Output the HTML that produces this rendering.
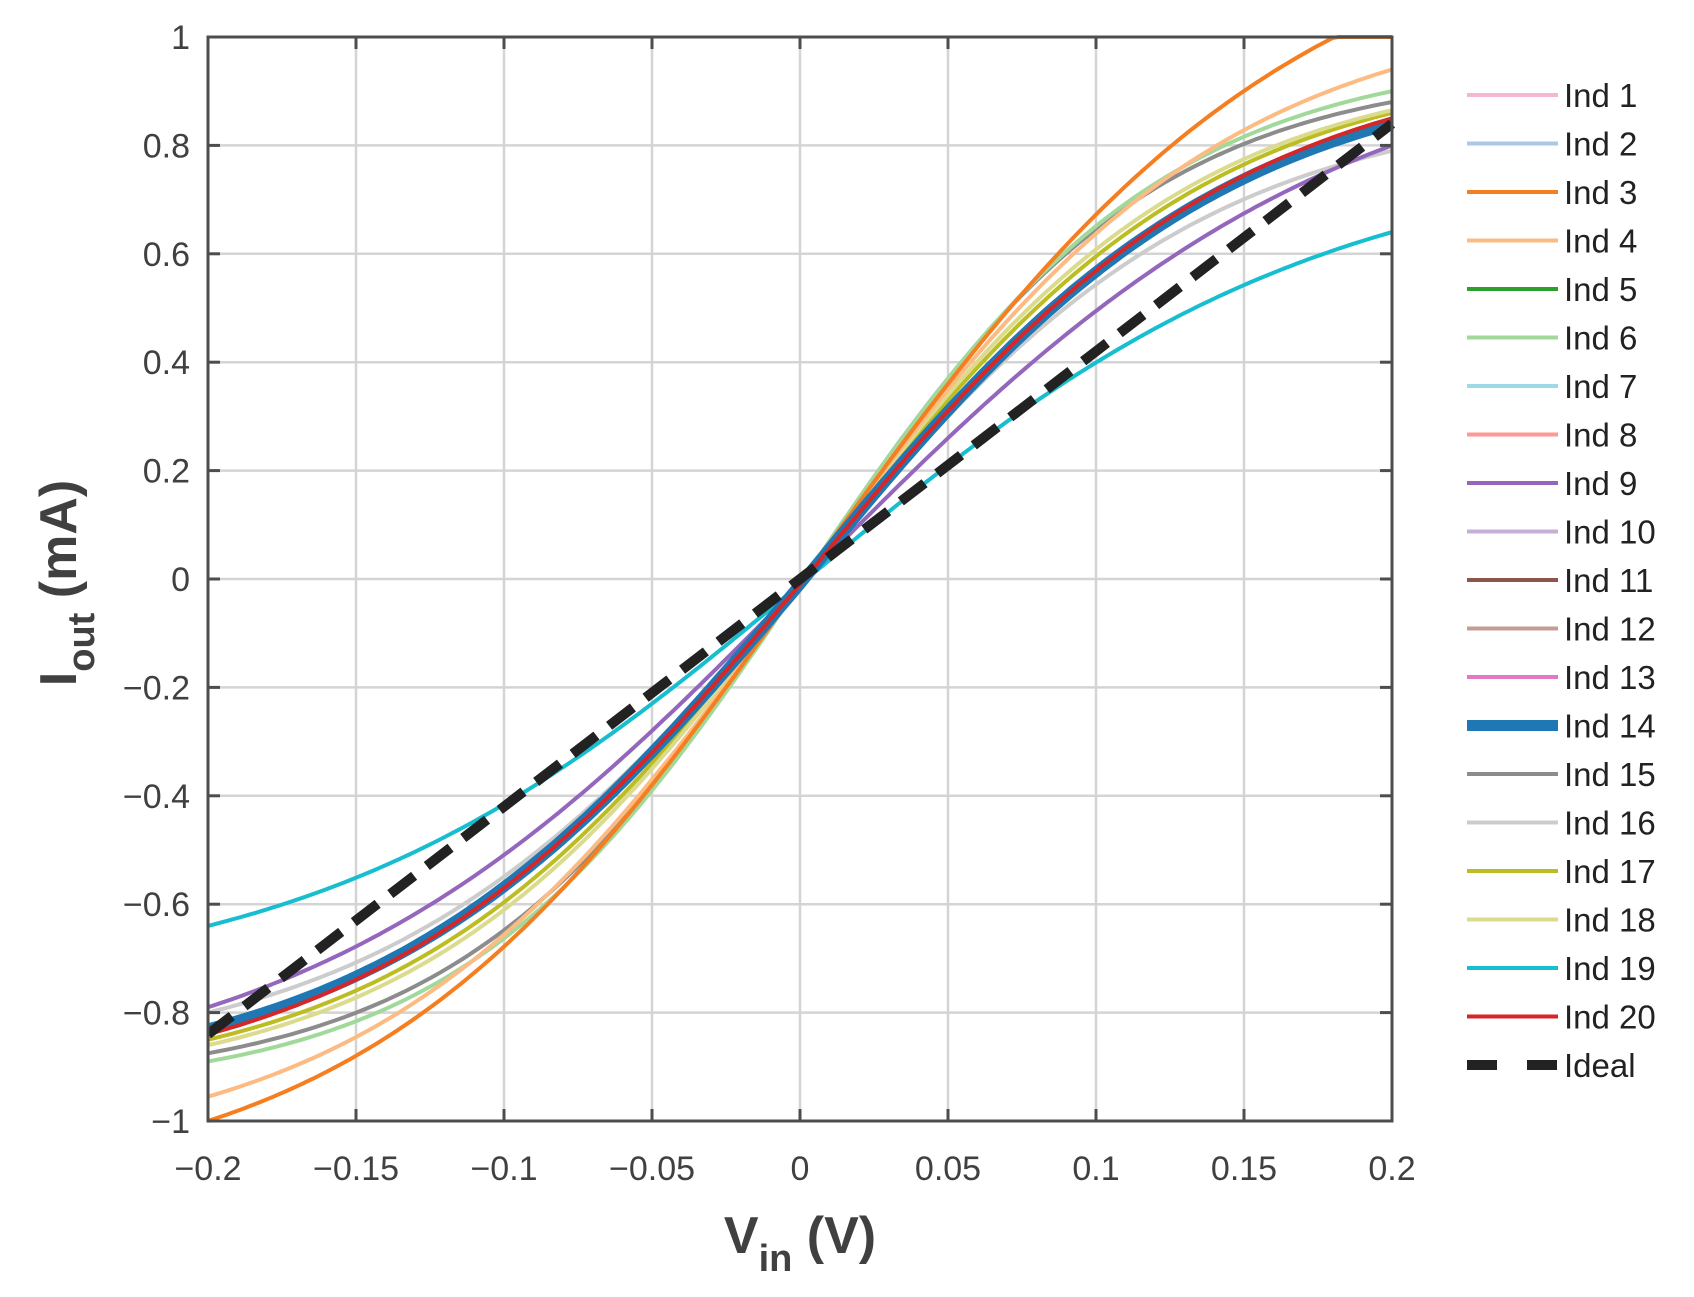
<!DOCTYPE html>
<html><head><meta charset="utf-8"><style>
html,body{margin:0;padding:0;background:#fff;}
svg{display:block;font-family:"Liberation Sans",Arial,sans-serif;}
</style></head><body>
<svg id="s" width="1694" height="1297" xmlns="http://www.w3.org/2000/svg"></svg>
<script>
const s=document.getElementById('s');
const L=208,R=1392,T=37,B=1121;
const X=v=>L+(v+0.2)/0.4*(R-L);
const Y=i=>T+(1-i)/2*(B-T);
let h='';
for(let k=-4;k<=4;k++){const x=X(k*0.05);h+=`<line x1="${x}" y1="${T}" x2="${x}" y2="${B}" stroke="#d4d4d4" stroke-width="2.5"/>`;}
for(let k=-5;k<=5;k++){const y=Y(k*0.2);h+=`<line x1="${L}" y1="${y}" x2="${R}" y2="${y}" stroke="#d4d4d4" stroke-width="2.5"/>`;}
function fit(p1,p4){
  const r=p4/p1;let lo=0.01,hi=60;
  for(let i=0;i<80;i++){const m=(lo+hi)/2;const q=Math.tanh(0.2*m)/Math.tanh(0.05*m);if(q>r)lo=m;else hi=m;}
  const b=(lo+hi)/2;return [p4/Math.tanh(0.2*b),b];
}
function curve(p1,p4,n1,n4){
  const [ap,bp]=fit(p1,p4),[an,bn]=fit(n1,n4);
  let d='';
  for(let j=0;j<=200;j++){const v=-0.2+j*0.002;
    let i=v>=0?ap*Math.tanh(bp*v):an*Math.tanh(bn*v);
    i-=0.01;
    if(i>1)i=1;
    d+=(j?'L':'M')+X(v).toFixed(1)+' '+Y(i).toFixed(1);}
  return d;
}
const cs=[
 ['#cccccc',0.31,0.80,0.30,0.79,4],
 ['#bcbd22',0.34,0.87,0.33,0.84,4],
 ['#9467bd',0.27,0.81,0.27,0.78,4],
 ['#8c8c8c',0.38,0.89,0.37,0.865,4],
 ['#dbdb8d',0.35,0.875,0.34,0.85,4],
 ['#a1d99b',0.38,0.91,0.38,0.88,4],
 ['#fdbb84',0.36,0.95,0.36,0.945,4],
 ['#f57f20',0.37,1.06,0.37,0.99,4],
 ['#17becf',0.22,0.65,0.22,0.63,4],
 ['#1f77b4',0.32,0.85,0.31,0.82,11],
 ['#d62728',0.32,0.86,0.31,0.83,4],
];
h+=`<clipPath id="c"><rect x="${L}" y="${T-3}" width="${R-L+4}" height="${B-T+6}"/></clipPath><g clip-path="url(#c)">`;
for(const c of cs)h+=`<path d="${curve(c[1],c[2],c[3],c[4])}" fill="none" stroke="${c[0]}" stroke-width="${c[5]}"/>`;
h+=`<line x1="${X(-0.2)}" y1="${Y(-0.84)}" x2="${X(0.2)}" y2="${Y(0.84)}" stroke="#222" stroke-width="10" stroke-dasharray="30,16"/>`;
h+='</g>';
h+=`<rect x="${L}" y="${T}" width="${R-L}" height="${B-T}" fill="none" stroke="#4d4d4d" stroke-width="3"/>`;
for(let k=-4;k<=4;k++){const x=X(k*0.05);h+=`<line x1="${x}" y1="${B}" x2="${x}" y2="${B-12}" stroke="#4d4d4d" stroke-width="3"/><line x1="${x}" y1="${T}" x2="${x}" y2="${T+12}" stroke="#4d4d4d" stroke-width="3"/>`;
 const lab=['\u22120.2','\u22120.15','\u22120.1','\u22120.05','0','0.05','0.1','0.15','0.2'][k+4];
 h+=`<text x="${x}" y="1180" font-size="34" fill="#404040" text-anchor="middle">${lab}</text>`;}
for(let k=-5;k<=5;k++){const y=Y(k*0.2);h+=`<line x1="${L}" y1="${y}" x2="${L+12}" y2="${y}" stroke="#4d4d4d" stroke-width="3"/><line x1="${R}" y1="${y}" x2="${R-12}" y2="${y}" stroke="#4d4d4d" stroke-width="3"/>`;
 let v=(k*0.2).toFixed(1).replace(/\.0$/,'').replace('-','\u2212');if(k===0)v='0';
 h+=`<text x="190" y="${y+12}" font-size="34" fill="#404040" text-anchor="end">${v}</text>`;}
h+=`<text x="800" y="1253" font-size="52" font-weight="bold" fill="#404040" text-anchor="middle">V<tspan font-size="38" dy="18">in</tspan><tspan dy="-18"> (V)</tspan></text>`;
h+=`<text transform="translate(76,583) rotate(-90)" font-size="52" font-weight="bold" fill="#404040" text-anchor="middle">I<tspan font-size="38" dy="18">out</tspan><tspan dy="-18"> (mA)</tspan></text>`;
const lg=['#f4b6d2','#aec7e8','#f57f20','#fdbb84','#2ca02c','#a1d99b','#9edae5','#ff9896','#9467bd','#c5b0d5','#8c564b','#c49c94','#e377c2','#1f77b4','#8c8c8c','#cccccc','#bcbd22','#dbdb8d','#17becf','#d62728'];
for(let i=0;i<21;i++){const y=95+i*48.5;
 if(i<20)h+=`<line x1="1467" y1="${y}" x2="1558" y2="${y}" stroke="${lg[i]}" stroke-width="${i===13?11:4}"/>`;
 else h+=`<line x1="1467" y1="${y}" x2="1558" y2="${y}" stroke="#222" stroke-width="10" stroke-dasharray="30,30"/>`;
 h+=`<text x="1564" y="${y+12}" font-size="33" fill="#222">${i<20?'Ind '+(i+1):'Ideal'}</text>`;}
s.innerHTML=h;
</script>
</body></html>
